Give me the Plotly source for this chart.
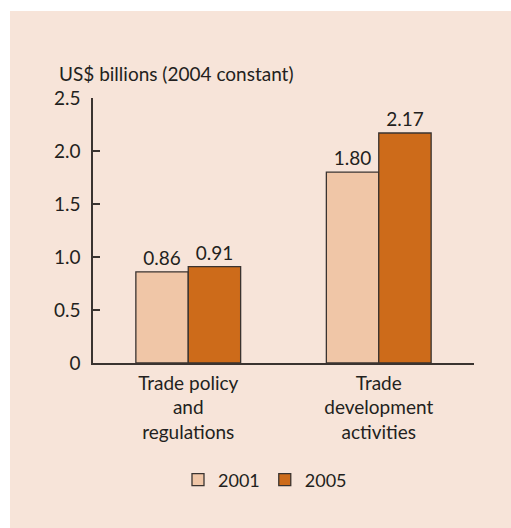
import plotly.graph_objects as go

categories = ["Trade policy<br>and<br>regulations", "Trade<br>development<br>activities"]
cat_keys = ["policy", "development"]
years = ["2001", "2005"]
values_2001 = [0.86, 1.80]
values_2005 = [0.91, 2.17]
y_ticks = [0, 0.5, 1.0, 1.5, 2.0, 2.5]
y_ticktext = ["0", "0.5", "1.0", "1.5", "2.0", "2.5"]
y_title = "US$ billions (2004 constant)"

FONT = "Lato"
FS = 19
TXT = "#231F20"
W, H = 511, 528
L, R, T, B = 93, 511 - 474, 98, 528 - 363

fig = go.Figure()
for name, vals, col in [(years[0], values_2001, "#F0C6A7"), (years[1], values_2005, "#CD6B1A")]:
    fig.add_trace(go.Bar(
        x=cat_keys, y=vals, name=name,
        marker=dict(color=col, line=dict(color="#3a3330", width=1.3)),
        text=[f"{v:.2f}" for v in vals], textposition="outside",
        textfont=dict(family=FONT, size=FS, color=TXT),
        cliponaxis=False,
    ))

pw = W - L - R
ph = H - T - B
fig.update_layout(
    width=W, height=H,
    margin=dict(l=L, r=R, t=T, b=B),
    paper_bgcolor="#F7E4D9",
    plot_bgcolor="rgba(0,0,0,0)",
    barmode="group", bargap=0.45, bargroupgap=0,
    font=dict(family=FONT, size=FS, color=TXT),
    showlegend=True,
    legend=dict(orientation="h", x=(265 - L) / pw, xanchor="center",
                y=-(480 - T - ph) / ph, yanchor="middle",
                font=dict(family=FONT, size=18, color=TXT),
                itemwidth=30, bgcolor="rgba(0,0,0,0)"),
    xaxis=dict(type="category", range=[-0.5, 1.5], tickmode="array",
               tickvals=cat_keys, ticktext=categories,
               showline=True, linecolor="#3a3330", linewidth=1.5,
               ticks="outside", ticklen=2, tickcolor="rgba(0,0,0,0)",
               showgrid=False, zeroline=False),
    yaxis=dict(range=[0, 2.5], tickmode="array", tickvals=y_ticks, ticktext=y_ticktext,
               showline=True, linecolor="#3a3330", linewidth=1.5,
               ticks="inside", ticklen=7, tickcolor="#3a3330", tickwidth=1.5,
               ticklabelstandoff=7,
               showgrid=False, zeroline=False),
    shapes=[
        dict(type="rect", xref="paper", yref="paper", x0=-L / pw - 0.01, x1=(-L + 10) / pw,
             y0=-B / ph - 0.01, y1=(ph + T) / ph + 0.01, fillcolor="white", line=dict(width=0), layer="below"),
        dict(type="rect", xref="paper", yref="paper", x0=-L / pw - 0.01, x1=(pw + R) / pw + 0.01,
             y0=(ph + T - 11) / ph, y1=(ph + T) / ph + 0.01, fillcolor="white", line=dict(width=0), layer="below"),
    ],
    annotations=[dict(text=y_title, xref="paper", yref="paper", x=(57 - L) / pw, xanchor="left",
                      y=(ph + T - 73) / ph, yanchor="middle", showarrow=False,
                      font=dict(family=FONT, size=FS, color=TXT))],
)

fig.write_html("out.html", config={"displayModeBar": False},
               post_script="document.body.style.margin='0';document.body.style.overflow='hidden';")
